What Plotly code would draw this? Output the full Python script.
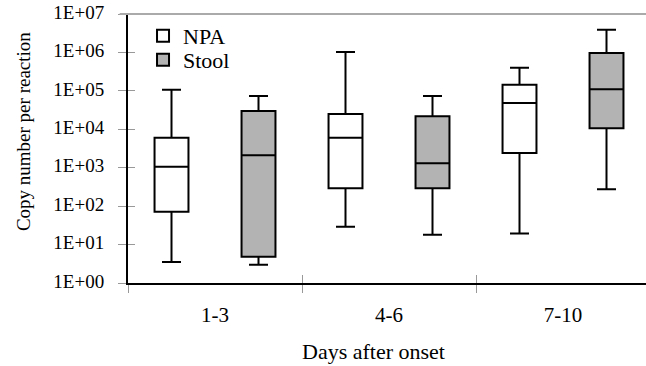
import plotly.graph_objects as go

categories = ["1-3", "4-6", "7-10"]
group_index = [0, 1, 2]
boundaries = [-0.5, 0.5, 1.5, 2.5]

npa_low = [3.5, 29, 19.5]
npa_q1 = [71, 290, 2400]
npa_med = [1060, 6000, 48000]
npa_q3 = [6000, 25000, 144000]
npa_high = [107000, 1020000, 400000]

stool_low = [3.0, 18, 277]
stool_q1 = [4.8, 290, 10700]
stool_med = [2100, 1300, 110000]
stool_q3 = [30000, 22000, 960000]
stool_high = [74000, 74000, 3900000]

y_tickvals = [1, 10, 100, 1e3, 1e4, 1e5, 1e6, 1e7]
y_ticktext = ["1E+00", "1E+01", "1E+02", "1E+03", "1E+04", "1E+05", "1E+06", "1E+07"]

FONT = "Liberation Serif"

fig = go.Figure()
fig.add_trace(go.Box(
    name="NPA", x=group_index, lowerfence=npa_low, q1=npa_q1, median=npa_med,
    q3=npa_q3, upperfence=npa_high, fillcolor="white", legend="legend",
    line=dict(color="black", width=2), whiskerwidth=0.56, boxpoints=False,
))
fig.add_trace(go.Box(
    name="Stool", x=group_index, lowerfence=stool_low, q1=stool_q1, median=stool_med,
    q3=stool_q3, upperfence=stool_high, fillcolor="#b3b3b3", legend="legend2",
    line=dict(color="black", width=2), whiskerwidth=0.56, boxpoints=False,
))
# empty helper trace so the overlay axes (inner half of crossing ticks) are drawn
fig.add_trace(go.Scatter(x=[], y=[], xaxis="x2", yaxis="y2", showlegend=False, hoverinfo="skip"))

xr = [-0.5, 2.477]
legend_common = dict(xanchor="left", yanchor="middle",
                     font=dict(size=22, family=FONT, color="black"),
                     bgcolor="rgba(0,0,0,0)", borderwidth=0)
fig.update_layout(
    width=646, height=366,
    margin=dict(l=128, r=0, t=14, b=83, autoexpand=False),
    paper_bgcolor="white", plot_bgcolor="white",
    boxmode="group", boxgap=0, boxgroupgap=0.61,
    font=dict(family=FONT, color="black", size=20),
    showlegend=True,
    legend=dict(x=0.029, y=0.918, **legend_common),
    legend2=dict(x=0.029, y=0.829, **legend_common),
    xaxis=dict(
        type="linear", range=xr, tickmode="array", tickvals=group_index,
        ticktext=categories, ticks="", showgrid=False, zeroline=False,
        showline=True, linecolor="black", linewidth=2, automargin=False,
        tickfont=dict(size=21, family=FONT, color="black"), ticklabelstandoff=12,
        ticklabeloverflow="allow",
        minor=dict(tickmode="array", tickvals=boundaries, ticks="outside",
                   ticklen=8, tickcolor="#999999", tickwidth=1, showgrid=False),
    ),
    xaxis2=dict(
        type="linear", range=xr, overlaying="x", anchor="y2", side="bottom",
        tickmode="array", tickvals=boundaries, ticks="inside", ticklen=8,
        tickcolor="#999999", tickwidth=1, showticklabels=False, automargin=False,
        showgrid=False, zeroline=False, showline=False,
    ),
    yaxis=dict(
        type="log", range=[0, 7], tickmode="array", tickvals=y_tickvals,
        ticktext=y_ticktext, ticks="outside", ticklen=8, tickcolor="#999999",
        tickwidth=1, showgrid=False, zeroline=False, showline=True, automargin=False,
        linecolor="black", linewidth=2, tickfont=dict(size=19, family=FONT, color="black"),
        ticklabelstandoff=10, ticklabelshift=-2, ticklabeloverflow="allow",
    ),
    yaxis2=dict(
        type="log", range=[0, 7], overlaying="y", anchor="x2", side="left",
        tickmode="array", tickvals=y_tickvals, ticks="inside", ticklen=7,
        tickcolor="#999999", tickwidth=1, showticklabels=False, automargin=False,
        showgrid=False, zeroline=False, showline=False,
    ),
    shapes=[dict(type="line", xref="paper", yref="paper", x0=-0.016, x1=1,
                 y0=1, y1=1, line=dict(color="#aaaaaa", width=2))],
    annotations=[
        dict(text="Copy number per reaction", textangle=-90, xref="paper", yref="paper",
             x=-0.2027, y=0.561, xanchor="center", yanchor="middle", showarrow=False,
             font=dict(size=19, family=FONT, color="black")),
        dict(text="Days after onset", xref="paper", yref="paper",
             x=0.473, y=-0.3086, xanchor="center", yanchor="bottom", showarrow=False,
             font=dict(size=22, family=FONT, color="black")),
    ],
)

# remove the default 8px page margin so the 646x366 figure fills the window exactly
fig.write_html("out.html", config={"displayModeBar": False},
               post_script="document.body.style.margin='0';document.body.style.overflow='hidden';")
